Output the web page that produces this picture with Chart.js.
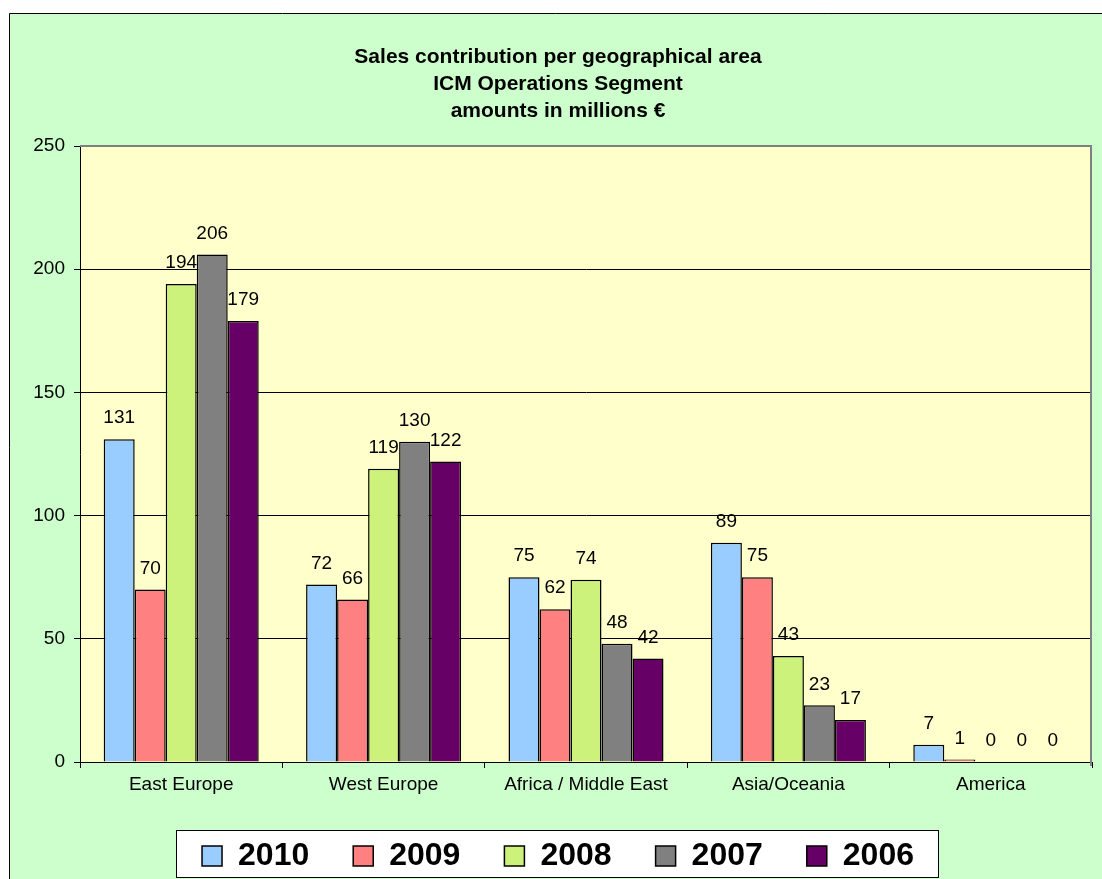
<!DOCTYPE html>
<html lang="en">
<head>
    <meta charset="UTF-8">
    <title>Sales contribution per geographical area</title>
    <style>
        html, body {
            margin: 0;
            padding: 0;
            background: #fff;
            overflow: hidden;
        }
        #wrap {
            position: absolute;
            left: 0;
            top: 0;
            width: 1102px;
            height: 882px;
        }
    </style>
</head>
<body>
    <div id="wrap"><canvas id="salesChart"></canvas></div>
    <script src="https://cdn.jsdelivr.net/npm/chart.js"></script>
    <script>
        // values (millions EUR)
        const areas = ['East Europe', 'West Europe', 'Africa / Middle East', 'Asia/Oceania', 'America'];
        const years = ['2010', '2009', '2008', '2007', '2006'];
        const sales2010 = [131, 72, 75, 89, 7];
        const sales2009 = [70, 66, 62, 75, 1];
        const sales2008 = [194, 119, 74, 43, 0.2];
        const sales2007 = [206, 130, 48, 23, 0.2];
        const sales2006 = [179, 122, 42, 17, 0.2];
        const yTicks = [0, 50, 100, 150, 200, 250];
        const titleLines = ['Sales contribution per geographical area', 'ICM Operations Segment', 'amounts in millions €'];

        const barColors = ['#99CCFF', '#FF8080', '#CCF27C', '#808080', '#660066'];
        const fontFamily = '"Liberation Sans", Arial, sans-serif';
        const series = [sales2010, sales2009, sales2008, sales2007, sales2006];

        // frame, plot area fill and legend box
        const backdrop = {
            id: 'backdrop',
            beforeDraw(chart) {
                const { ctx, chartArea: a, width, height } = chart;
                ctx.save();
                ctx.fillStyle = '#fff';
                ctx.fillRect(0, 0, width, height);
                ctx.fillStyle = '#CCFFCC';
                ctx.fillRect(9, 13, width - 9, height - 13);
                ctx.strokeStyle = '#000';
                ctx.lineWidth = 1;
                ctx.beginPath();
                ctx.moveTo(9.5, height);
                ctx.lineTo(9.5, 13.5);
                ctx.lineTo(width, 13.5);
                ctx.stroke();
                ctx.fillStyle = '#FFFFCC';
                ctx.fillRect(a.left, a.top, a.right - a.left, a.bottom - a.top);

                const hits = chart.legend.legendHitBoxes;
                if (hits && hits.length) {
                    const first = hits[0];
                    const last = hits[hits.length - 1];
                    const x0 = Math.round(first.left - 26) + 0.5;
                    const x1 = Math.round(last.left + last.width + 24) + 0.5;
                    const y0 = Math.round(first.top - 10) + 0.5;
                    const y1 = Math.round(first.top + first.height + 5) + 0.5;
                    ctx.fillStyle = '#fff';
                    ctx.fillRect(x0, y0, x1 - x0, y1 - y0);
                    ctx.strokeStyle = '#000';
                    ctx.strokeRect(x0, y0, x1 - x0, y1 - y0);
                }
                ctx.restore();
            },
            afterDraw(chart) {
                const { ctx, chartArea: a } = chart;
                ctx.save();
                ctx.strokeStyle = '#808080';
                ctx.lineWidth = 2;
                ctx.beginPath();
                ctx.moveTo(a.left, a.top);
                ctx.lineTo(a.right - 1, a.top);
                ctx.lineTo(a.right - 1, a.bottom + 4);
                ctx.stroke();
                ctx.restore();
            }
        };

        // numbers above the bars
        const valueLabels = {
            id: 'valueLabels',
            afterDatasetsDraw(chart) {
                const ctx = chart.ctx;
                ctx.save();
                ctx.font = '19px ' + fontFamily;
                ctx.fillStyle = '#000';
                ctx.textAlign = 'center';
                ctx.textBaseline = 'middle';
                chart.data.datasets.forEach((ds, i) => {
                    chart.getDatasetMeta(i).data.forEach((bar, j) => {
                        ctx.fillText(Math.round(ds.data[j]), bar.x, bar.y - 21);
                    });
                });
                ctx.restore();
            }
        };

        new Chart(document.getElementById('salesChart'), {
            type: 'bar',
            data: {
                labels: areas,
                datasets: years.map((y, i) => ({
                    label: y,
                    data: series[i],
                    backgroundColor: barColors[i],
                    borderColor: '#000',
                    borderWidth: 1.5,
                    categoryPercentage: 0.766,
                    barPercentage: 1.0
                }))
            },
            options: {
                responsive: true,
                maintainAspectRatio: false,
                animation: false,
                layout: { padding: { left: 24, right: 10, top: 0, bottom: 0 } },
                plugins: {
                    title: {
                        display: true,
                        text: titleLines,
                        color: '#000',
                        font: { family: fontFamily, size: 21, weight: 'bold', lineHeight: 27 / 21 },
                        padding: { top: 44, bottom: 21 }
                    },
                    legend: {
                        position: 'bottom',
                        labels: {
                            color: '#000',
                            font: { family: fontFamily, size: 32, weight: 'bold' },
                            boxWidth: 20,
                            boxHeight: 20,
                            padding: 44
                        }
                    },
                    tooltip: { enabled: false }
                },
                scales: {
                    x: {
                        grid: { drawOnChartArea: false, drawTicks: true, tickLength: 6, color: '#000', offset: true },
                        border: { color: '#000', width: 1 },
                        ticks: { color: '#000', padding: 5, font: { family: fontFamily, size: 19 }, maxRotation: 0 },
                        afterFit(scale) { scale.height = 34; }
                    },
                    y: {
                        min: 0,
                        max: 250,
                        afterBuildTicks(scale) { scale.ticks = yTicks.map(v => ({ value: v })); },
                        grid: { color: '#000', tickLength: 6, drawTicks: true },
                        border: { color: '#000', width: 1 },
                        ticks: { color: '#000', padding: 9, font: { family: fontFamily, size: 19 } },
                        afterFit(scale) { scale.width = 56; }
                    }
                }
            },
            plugins: [backdrop, valueLabels]
        });
    </script>
</body>
</html>
